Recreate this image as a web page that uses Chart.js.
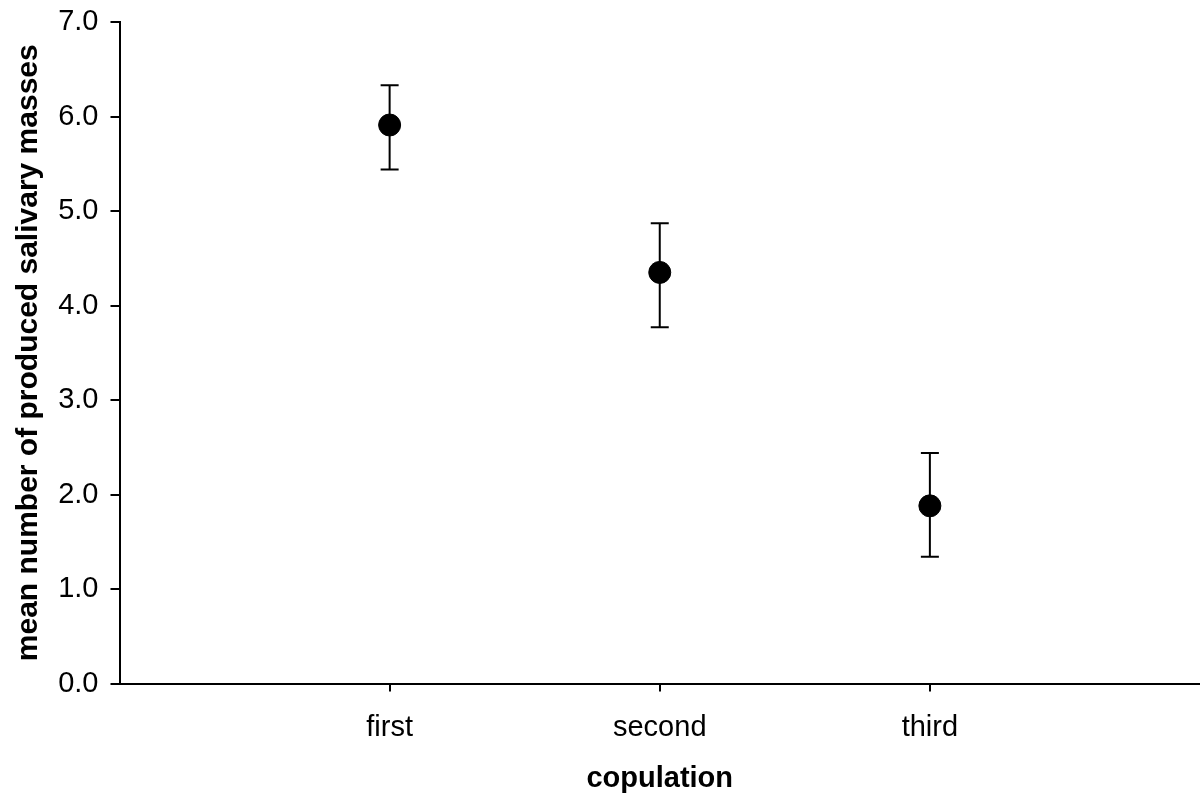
<!DOCTYPE html>
<html>
<head>
<meta charset="utf-8">
<script src="https://cdn.jsdelivr.net/npm/chart.js@4.4.1/dist/chart.umd.min.js"></script>
<style>
html,body{margin:0;padding:0;background:#fff;}
#wrap{width:1200px;height:798px;position:relative;}
</style>
</head>
<body>
<div id="wrap"><canvas id="c" width="1200" height="798"></canvas></div>
<script>
const categories = ["first", "second", "third"];
const means = [5.91, 4.35, 1.88];
const errUpper = [6.33, 4.87, 2.44];
const errLower = [5.44, 3.77, 1.34];
const yTicks = [0, 1, 2, 3, 4, 5, 6, 7];

const xTitle = "copulation";
const yTitle = "mean number of produced salivary masses";

const points = categories.map((c, i) => ({x: i + 1, y: means[i]}));

const errorBarPlugin = {
  id: 'errorBars',
  afterDatasetsDraw(chart) {
    const ctx = chart.ctx;
    const xs = chart.scales.x, ys = chart.scales.y;
    ctx.save();
    ctx.strokeStyle = '#000';
    ctx.lineWidth = 2;
    categories.forEach((c, i) => {
      const px = xs.getPixelForValue(i + 1);
      const top = ys.getPixelForValue(errUpper[i]);
      const bot = ys.getPixelForValue(errLower[i]);
      ctx.beginPath();
      ctx.moveTo(px, top); ctx.lineTo(px, bot);
      ctx.moveTo(px - 9, top); ctx.lineTo(px + 9, top);
      ctx.moveTo(px - 9, bot); ctx.lineTo(px + 9, bot);
      ctx.stroke();
    });
    ctx.restore();
  }
};

const font = "'Liberation Sans', Arial, sans-serif";

new Chart(document.getElementById('c'), {
  type: 'scatter',
  data: {
    datasets: [{
      data: points,
      backgroundColor: '#000',
      borderColor: '#000',
      pointRadius: 11,
      pointHoverRadius: 11,
      showLine: false,
      clip: false
    }]
  },
  options: {
    responsive: false,
    animation: false,
    events: [],
    layout: {autoPadding: false, padding: {top: 22, right: 0, bottom: 0, left: 0}},
    plugins: {legend: {display: false}, tooltip: {enabled: false}},
    scales: {
      x: {
        type: 'linear',
        min: 0, max: 4,
        afterBuildTicks(scale) { scale.ticks = categories.map((c, i) => ({value: i + 1})); },
        afterFit(scale) { scale.height = 114.5; scale.paddingLeft = 0; scale.paddingRight = 0; },
        ticks: {
          callback: (v) => categories[v - 1] ?? '',
          color: '#000',
          font: {family: font, size: 29},
          padding: 19,
          maxRotation: 0
        },
        grid: {display: true, drawOnChartArea: false, drawTicks: true, tickLength: 8, color: '#000', lineWidth: 2},
        border: {display: true, color: '#000', width: 2},
        title: {display: true, text: xTitle, color: '#000', font: {family: font, size: 29, weight: 'bold'}, padding: {top: 0, bottom: 2}}
      },
      y: {
        type: 'linear',
        min: 0, max: 7,
        afterBuildTicks(scale) { scale.ticks = yTicks.map(v => ({value: v})); },
        afterFit(scale) { scale.width = 119.5; scale.paddingTop = 0; scale.paddingBottom = 0; },
        ticks: {
          callback: (v) => v.toFixed(1),
          color: '#000',
          font: {family: font, size: 29},
          padding: 12
        },
        grid: {display: true, drawOnChartArea: false, drawTicks: true, tickLength: 9, color: '#000', lineWidth: 2},
        border: {display: true, color: '#000', width: 2},
        title: {display: true, text: yTitle, color: '#000', font: {family: font, size: 30, weight: 'bold'}, padding: {top: 11, bottom: 0}}
      }
    }
  },
  plugins: [errorBarPlugin]
});
</script>
</body>
</html>
